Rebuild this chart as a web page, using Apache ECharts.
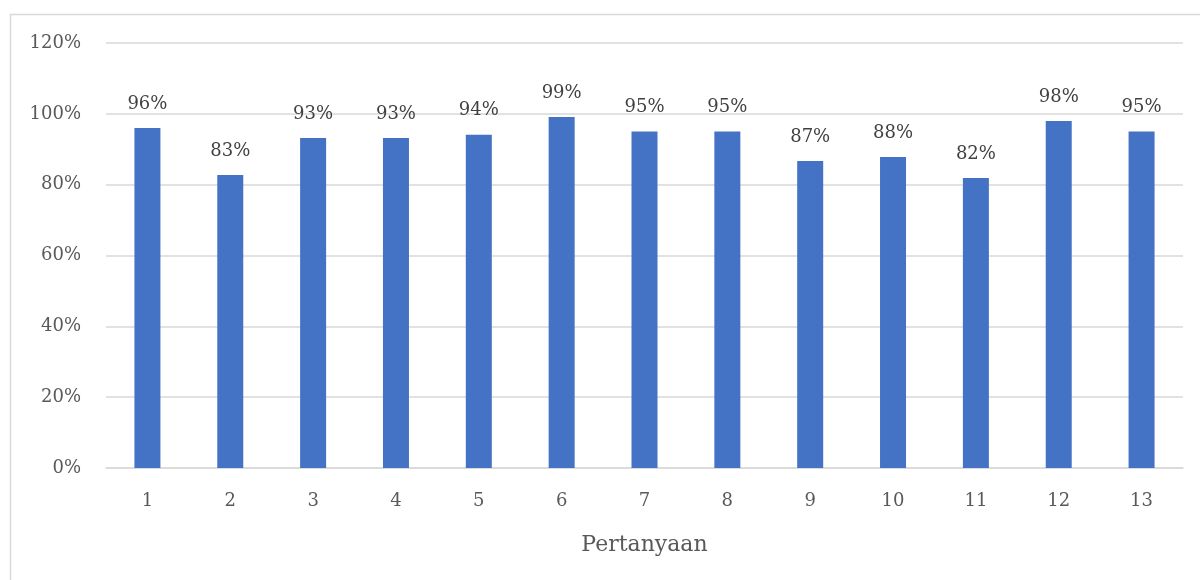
<!DOCTYPE html>
<html>
<head>
<meta charset="utf-8">
<script src="https://cdn.jsdelivr.net/npm/echarts@6/dist/echarts.min.js"></script>
<style>
  html, body { margin: 0; padding: 0; background: #fff; }
  #chart { width: 1200px; height: 580px; }
</style>
</head>
<body>
<div id="chart"></div>
<script>
var questions = ['1', '2', '3', '4', '5', '6', '7', '8', '9', '10', '11', '12', '13'];
var scores = [96, 82.7, 93.2, 93.2, 94.1, 99.1, 95, 95, 86.7, 87.8, 81.9, 98, 95];

var fontFam = '"DejaVu Serif", "Liberation Serif", serif';

var myChart = echarts.init(document.getElementById('chart'));
myChart.setOption({
    backgroundColor: '#fff',
    animation: false,
    textStyle: { fontFamily: fontFam },
    graphic: [{
        type: 'rect',
        shape: { x: 10.5, y: 14.5, width: 1200, height: 600 },
        style: { fill: 'none', stroke: '#d9d9d9', lineWidth: 1.5 },
        silent: true
    }],
    grid: { left: 106, right: 17, top: 43, bottom: 112 },
    xAxis: {
        type: 'category',
        data: questions,
        name: 'Pertanyaan',
        nameLocation: 'middle',
        nameGap: 66,
        nameTextStyle: { fontSize: 22, color: '#595959', fontFamily: fontFam },
        axisLine: { lineStyle: { color: '#d9d9d9', width: 1.5 } },
        axisTick: { show: false },
        axisLabel: { fontSize: 18, color: '#595959', margin: 24, fontFamily: fontFam }
    },
    yAxis: {
        type: 'value',
        min: 0,
        max: 120,
        interval: 20,
        axisLine: { show: false },
        axisTick: { show: false },
        splitLine: { lineStyle: { color: '#d9d9d9', width: 1.5 } },
        axisLabel: {
            fontSize: 18, color: '#595959', margin: 25, fontFamily: fontFam,
            formatter: function (v) { return v + '%'; }
        }
    },
    series: [{
        type: 'bar',
        data: scores,
        barWidth: 26,
        itemStyle: { color: '#4472C4' },
        label: {
            show: true,
            position: 'top',
            distance: 15,
            fontSize: 18,
            color: '#404040',
            fontFamily: fontFam,
            formatter: function (p) { return Math.round(p.value) + '%'; }
        }
    }]
});
</script>
</body>
</html>
